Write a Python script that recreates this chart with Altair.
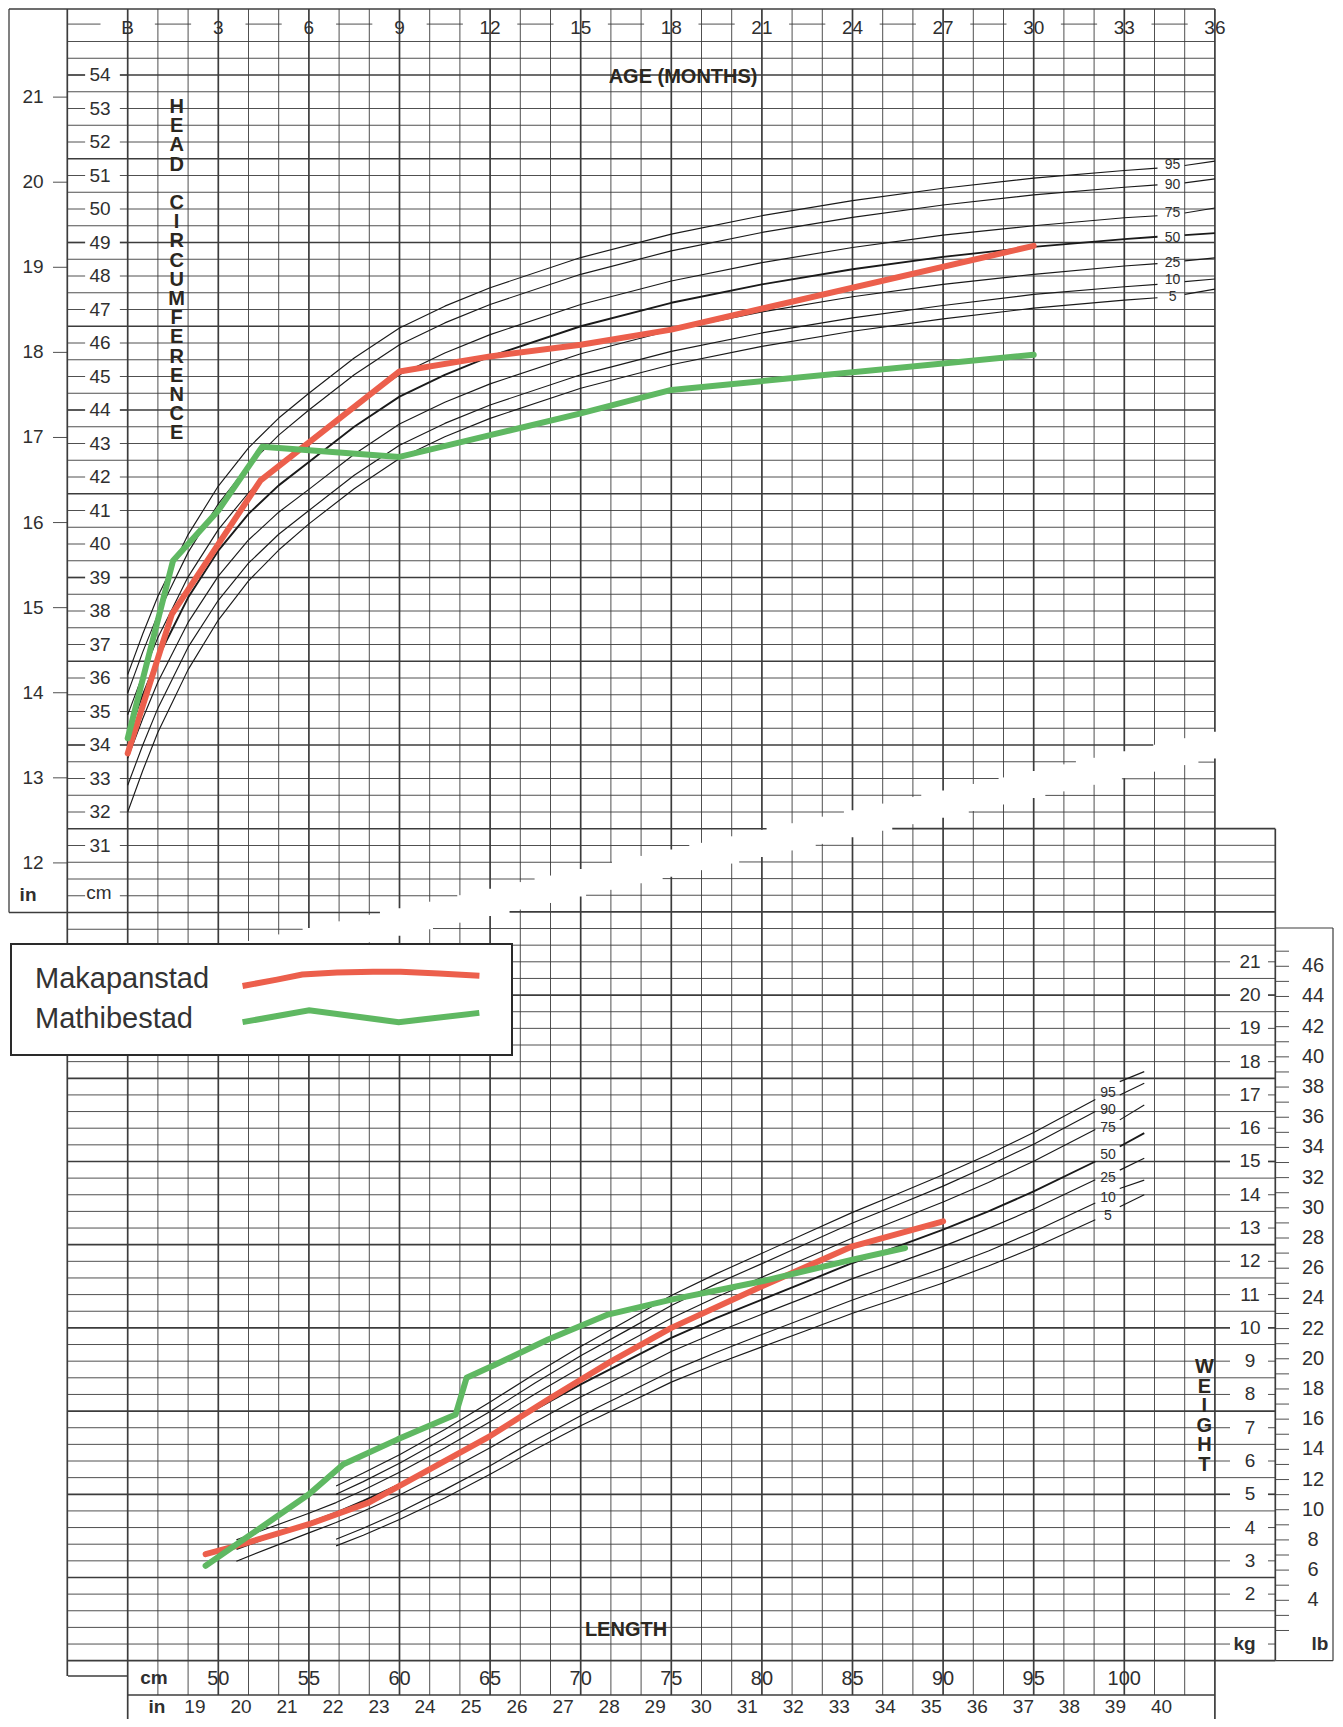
import altair as alt
import pandas as pd

FONT = "Liberation Sans"
INK = "#2f2f2f"
GRID = "#3c3c3c"
CURVE = "#1a1a1a"

# ------------------------------------------------------------------ data
series_names = ["Makapanstad", "Mathibestad"]
series_colors = ["#EC5F4C", "#5FB862"]

# head circumference for age: age (months) / cm
hc_mak_age = [0, 1.46, 4.4, 9.0, 12, 15, 18, 30]
hc_mak_cm = [33.75, 37.9, 41.9, 45.15, 45.6, 45.95, 46.4, 48.9]
hc_mat_age = [0, 1.5, 3.0, 4.45, 9.0, 12, 15, 18, 30]
hc_mat_cm = [34.2, 39.5, 41.0, 42.9, 42.6, 43.25, 43.9, 44.6, 45.65]

# weight for length: length (cm) / kg
wl_mak_len = [49.3, 51, 55, 58.3, 60, 65, 68.2, 71.7, 75, 80, 85, 90]
wl_mak_kg = [3.2, 3.45, 4.1, 4.75, 5.25, 6.75, 7.85, 9.0, 10.0, 11.25, 12.45, 13.2]
wl_mat_len = [49.3, 55.0, 56.9, 59.9, 63.1, 63.7, 65.3, 68.2, 71.5, 75, 80, 85, 87.9]
wl_mat_kg = [2.85, 5.0, 5.9, 6.65, 7.4, 8.5, 8.9, 9.65, 10.4, 10.85, 11.4, 12.05, 12.4]

pct_names = ["95", "90", "75", "50", "25", "10", "5"]

# reference percentile curves, head circumference (cm) by age (months)
hc_pct_age = [0, 0.5, 1, 1.5, 2, 3, 4, 5, 6, 7.5, 9, 10.5, 12, 15, 18, 21, 24, 27, 30, 33, 34.1]
hc_pct = {
    "95": [36.1, 37.32, 38.44, 39.36, 40.28, 41.73, 42.87, 43.76, 44.5, 45.55, 46.45, 47.1, 47.65, 48.55, 49.25, 49.8, 50.25, 50.62, 50.92, 51.15, 51.22],
    "90": [35.55, 36.78, 37.9, 38.83, 39.75, 41.2, 42.35, 43.25, 44.0, 45.05, 45.95, 46.6, 47.15, 48.05, 48.75, 49.3, 49.75, 50.12, 50.42, 50.65, 50.72],
    "75": [34.9, 36.1, 37.21, 38.11, 39.02, 40.43, 41.53, 42.39, 43.1, 44.15, 45.05, 45.7, 46.25, 47.15, 47.85, 48.4, 48.85, 49.22, 49.5, 49.74, 49.8],
    "50": [34.3, 35.5, 36.6, 37.5, 38.4, 39.8, 40.9, 41.75, 42.45, 43.5, 44.4, 45.05, 45.6, 46.5, 47.2, 47.75, 48.2, 48.57, 48.87, 49.1, 49.17],
    "25": [33.6, 34.79, 35.88, 36.77, 37.66, 39.04, 40.12, 40.95, 41.63, 42.68, 43.58, 44.23, 44.78, 45.68, 46.38, 46.93, 47.38, 47.75, 48.05, 48.3, 48.37],
    "10": [32.8, 34.0, 35.1, 36.01, 36.92, 38.32, 39.43, 40.29, 41.0, 42.05, 42.95, 43.6, 44.15, 45.05, 45.75, 46.3, 46.75, 47.12, 47.45, 47.68, 47.75],
    "5": [32.0, 33.24, 34.38, 35.31, 36.25, 37.73, 38.9, 39.82, 40.6, 41.65, 42.55, 43.2, 43.75, 44.65, 45.35, 45.9, 46.35, 46.72, 47.04, 47.28, 47.35],
}
hc_seg_age = [35, 36]
hc_seg = {"95": [51.3, 51.43], "90": [50.78, 50.9], "75": [49.88, 50.03], "50": [49.22, 49.28],
          "25": [48.45, 48.54], "10": [47.83, 47.91], "5": [47.45, 47.61]}
hc_lab_age = 34.6
hc_lab_cm = [51.31, 50.72, 49.88, 49.13, 48.39, 47.88, 47.37]

# reference percentile curves, weight (kg) by length (cm)
wl_len_long = [51, 53, 55, 56.5, 58, 60, 62.5, 65, 67.5, 70, 72.5, 75, 77.5, 80, 82.5, 85, 87.5, 90, 92.5, 95, 98.4]
wl_len_short = [56.5, 58, 60, 62.5, 65, 67.5, 70, 72.5, 75, 77.5, 80, 82.5, 85, 87.5, 90, 92.5, 95, 98.4]
wl_pct = {
    "95": [5.25, 5.64, 6.19, 6.95, 7.77, 8.63, 9.44, 10.2, 10.97, 11.63, 12.24, 12.86, 13.47, 14.03, 14.6, 15.21, 15.87, 16.86],
    "90": [5.0, 5.38, 5.93, 6.69, 7.49, 8.35, 9.16, 9.91, 10.67, 11.33, 11.93, 12.54, 13.15, 13.7, 14.26, 14.87, 15.52, 16.5],
    "75": [3.63, 4.03, 4.43, 4.75, 5.12, 5.66, 6.39, 7.18, 8.02, 8.81, 9.55, 10.29, 10.93, 11.52, 12.11, 12.7, 13.24, 13.78, 14.37, 15.01, 15.96],
    "50": [3.35, 3.75, 4.15, 4.45, 4.8, 5.3, 6.0, 6.75, 7.55, 8.3, 9.0, 9.7, 10.3, 10.85, 11.4, 11.95, 12.45, 12.95, 13.5, 14.1, 15.0],
    "25": [2.99, 3.42, 3.84, 4.15, 4.49, 4.98, 5.66, 6.4, 7.18, 7.92, 8.6, 9.29, 9.87, 10.41, 10.94, 11.48, 11.96, 12.45, 12.99, 13.57, 14.45],
    "10": [3.65, 3.98, 4.46, 5.14, 5.86, 6.63, 7.36, 8.03, 8.7, 9.27, 9.8, 10.32, 10.84, 11.32, 11.79, 12.31, 12.89, 13.75],
    "5": [3.45, 3.77, 4.24, 4.89, 5.6, 6.35, 7.06, 7.71, 8.37, 8.92, 9.43, 9.93, 10.44, 10.89, 11.35, 11.86, 12.41, 13.25],
}
wl_long_pcts = ["75", "50", "25"]
wl_seg_len = [99.75, 101.1]
wl_seg = {"95": [17.4, 17.7], "90": [17.0, 17.35], "75": [16.25, 16.7], "50": [15.45, 15.85],
          "25": [14.74, 15.1], "10": [14.19, 14.44], "5": [13.64, 14.0]}
wl_lab_len = 99.1
wl_lab_kg = [17.05, 16.55, 16.0, 15.2, 14.5, 13.9, 13.35]

# tick labels
month_ticks = list(range(0, 37, 3))
month_labels = ["B"] + [str(m) for m in range(3, 37, 3)]
cm_ticks = list(range(31, 55))
inch_ticks = list(range(12, 22))
kg_ticks = list(range(2, 22))
lb_ticks = list(range(2, 48))
lb_labels = list(range(4, 47, 2))
len_ticks = list(range(50, 101, 5))
len_inch_ticks = list(range(19, 41))

# ------------------------------------------------------------------ sheet geometry
W, H = 1327, 1711


def age_at(px):
    return (px - 127.7) / 30.2


def px_of_age(a):
    return 127.7 + 30.2 * a


def cm_at(py):
    return 54 - (py - 75) / 33.5


def py_of_cm(c):
    return 75 + 33.5 * (54 - c)


def len_at(px):
    return 50 + (px - 218.3) / 18.12


def kg_at(py):
    return 21 - (py - 961.8) / 33.28


def py_of_kg(k):
    return 961.8 + 33.28 * (21 - k)


TOP_X = [age_at(8), age_at(8 + W)]
TOP_Y = [cm_at(8 + H), cm_at(8)]
BOT_X = [len_at(8), len_at(8 + W)]
BOT_Y = [kg_at(8 + H), kg_at(8)]


def band_top_y(px):
    return 927 - 0.2166 * (px - 313)


def band_bot_y(px):
    return 927 - 0.2174 * (px - 440)


def band_top_x(py):
    return 313 + (927 - py) / 0.2166


def band_bot_x(py):
    return 440 + (927 - py) / 0.2174


THIN, THICK = 0.9, 1.7

# ---- top grid (age / cm)
top_rules = []


def add(lst, x, x2, y, y2, w):
    lst.append(dict(x=x, x2=x2, y=y, y2=y2, w=w))


for m in [-2] + list(range(0, 37)):
    px = px_of_age(m)
    y_end = min(band_top_y(px), 944)
    w = THICK if (m % 3 == 0 or m == -2) else THIN
    add(top_rules, m, m, cm_at(9), cm_at(y_end), w)

c = 28.5
while c <= 55.001:
    py = py_of_cm(c)
    xe = band_top_x(py)
    a2 = 36 if xe >= px_of_age(36) else age_at(xe)
    q = (c - 29) / 2.5
    w = THICK if abs(q - round(q)) < 1e-6 else THIN
    if (abs(c - round(c)) < 1e-6 and int(round(c)) in cm_ticks) or abs(c - 29.5) < 1e-6:
        add(top_rules, 0, a2, c, c, w)
        add(top_rules, -2, -1.41, c, c, w)
        add(top_rules, -0.26, 0, c, c, w)
    else:
        add(top_rules, -2, a2, c, c, w)
    c += 0.5

# dashes of the month label row
add(top_rules, -2, -0.9, 55.52, 55.52, THIN)
for k in range(12):
    add(top_rules, 3 * k + 0.9, 3 * k + 2.1, 55.52, 55.52, THIN)
# frame of the upper sheet
add(top_rules, age_at(9), 36, cm_at(9), cm_at(9), 1.5)
add(top_rules, age_at(9), age_at(9), cm_at(9), 29.0, 1.3)
add(top_rules, age_at(9), -2, 29.0, 29.0, 1.3)
# inch ticks
for i in inch_ticks:
    add(top_rules, age_at(53), -2, i * 2.54, i * 2.54, THIN)

# ---- bottom grid (length / kg)
bot_rules = []
for m in [-2] + list(range(0, 37)) + [38]:
    px = px_of_age(m)
    if m == 38:
        y1, y2 = py_of_kg(25), py_of_kg(0)
    else:
        y1 = band_bot_y(px)
        y2 = 1676 if m == -2 else (1727 if m in (0, 36) else 1695)
    w = THICK if (m % 3 == 0 or m in (-2, 38)) else THIN
    add(bot_rules, len_at(px), len_at(px), kg_at(y1), kg_at(y2), w)

k = 0.0
while k <= 27.001:
    py = py_of_kg(k)
    xs = max(68, band_bot_x(py))
    if xs < px_of_age(36):
        xe = px_of_age(38) if k <= 25.001 else px_of_age(36)
        q = k / 2.5
        w = THICK if abs(q - round(q)) < 1e-6 else THIN
        if (abs(k - round(k)) < 1e-6 and int(round(k)) in kg_ticks) or abs(k - 0.5) < 1e-6:
            add(bot_rules, len_at(xs), len_at(px_of_age(36)), k, k, w)
            add(bot_rules, len_at(px_of_age(36)), len_at(1230), k, k, w)
            add(bot_rules, len_at(1268), len_at(xe), k, k, w)
        else:
            add(bot_rules, len_at(xs), len_at(xe), k, k, w)
    k += 0.5

# rows under the length scale and lb box
add(bot_rules, len_at(px_of_age(0)), len_at(px_of_age(36)), kg_at(1695), kg_at(1695), 1.3)
add(bot_rules, len_at(68), len_at(px_of_age(0)), kg_at(1676), kg_at(1676), 1.3)
add(bot_rules, len_at(px_of_age(38)), len_at(1333), kg_at(928), kg_at(928), 1.2)
add(bot_rules, len_at(1333), len_at(1333), kg_at(928), 0, 1.2)
add(bot_rules, len_at(px_of_age(38)), len_at(1333), 0, 0, 1.2)
for lb in lb_ticks:
    add(bot_rules, len_at(px_of_age(38)), len_at(1289), lb * 0.453592, lb * 0.453592, THIN)

# ---- percentile curves
def curve_frame(xs_by, vals, segx, segs):
    rows = []
    for p in pct_names:
        xs = xs_by(p)
        for x, y in zip(xs, vals[p]):
            rows.append(dict(x=x, y=y, g=p, w=1.9 if p == "50" else 1.15))
        for x, y in zip(segx, segs[p]):
            rows.append(dict(x=x, y=y, g=p + "s", w=1.9 if p == "50" else 1.15))
    return pd.DataFrame(rows)


hc_curves = curve_frame(lambda p: hc_pct_age, hc_pct, hc_seg_age, hc_seg)
wl_curves = curve_frame(lambda p: wl_len_long if p in wl_long_pcts else wl_len_short,
                        wl_pct, wl_seg_len, wl_seg)

hc_data = pd.DataFrame(
    [dict(x=a, y=v, series=series_names[0]) for a, v in zip(hc_mak_age, hc_mak_cm)]
    + [dict(x=a, y=v, series=series_names[1]) for a, v in zip(hc_mat_age, hc_mat_cm)])
wl_data = pd.DataFrame(
    [dict(x=a, y=v, series=series_names[0]) for a, v in zip(wl_mak_len, wl_mak_kg)]
    + [dict(x=a, y=v, series=series_names[1]) for a, v in zip(wl_mat_len, wl_mat_kg)])

# ------------------------------------------------------------------ encodings
def sc(dom):
    return alt.Scale(domain=dom, nice=False, zero=False)


def xy(part):
    xd, yd = (TOP_X, TOP_Y) if part == "top" else (BOT_X, BOT_Y)
    return dict(x=alt.X("x:Q", scale=sc(xd), axis=None),
                y=alt.Y("y:Q", scale=sc(yd), axis=None))


def rule_layer(rows, part):
    return alt.Chart(pd.DataFrame(rows)).mark_rule(color=GRID, strokeCap="butt").encode(
        x2="x2:Q", y2="y2:Q",
        strokeWidth=alt.StrokeWidth("w:Q", scale=None, legend=None),
        **xy(part))


def curve_layer(df, part):
    return alt.Chart(df).mark_line(color=CURVE, strokeJoin="round").encode(
        detail="g:N",
        strokeWidth=alt.StrokeWidth("w:Q", scale=None, legend=None),
        **xy(part))


wave_mak = "M-9.87,0.58 L-7,0.05 L-4.9,-0.38 L-2,-0.55 L1,-0.6 L3.3,-0.6 L6.5,-0.45 L9.87,-0.28"
wave_mat = "M-9.87,0.26 L-4.32,-0.72 L3.14,0.26 L9.86,-0.51"

legend = alt.Legend(
    title=None, orient="none", legendX=3, legendY=936, direction="vertical",
    fillColor="white", strokeColor="#2a2a2a", padding=20,
    labelFont=FONT, labelFontSize=29, labelColor="#333333", labelAlign="left", labelLimit=400,
    labelOffset={"expr": "-341"}, symbolOffset=315, symbolSize=576, symbolStrokeWidth=6,
    symbolType={"expr": "datum.label === 'Makapanstad' ? '" + wave_mak + "' : '" + wave_mat + "'"},
    symbolFillColor="transparent", rowPadding=0,
)

color = alt.Color("series:N", scale=alt.Scale(domain=series_names, range=series_colors), legend=legend)


def data_layer(df, part):
    return alt.Chart(df).mark_line(strokeWidth=6, strokeJoin="round", strokeCap="round").encode(
        color=color, **xy(part))


def text_layer(xs, ys, ts, part, size, weight="normal", align="center", color=INK):
    df = pd.DataFrame(dict(x=xs, y=ys, t=[str(t) for t in ts]))
    return alt.Chart(df).mark_text(font=FONT, fontSize=size, fontWeight=weight, align=align,
                                   baseline="middle", color=color).encode(text="t:N", **xy(part))


def stack_layer(x, y, letters, part, size, lh):
    df = pd.DataFrame(dict(x=[x], y=[y]))
    return alt.Chart(df).mark_text(font=FONT, fontSize=size, fontWeight="bold", align="center",
                                   baseline="middle", color="#2b2720", text=letters,
                                   lineHeight=lh).encode(**xy(part))


layers = [
    rule_layer(top_rules, "top"),
    curve_layer(hc_curves, "top"),
    text_layer([hc_lab_age] * 7, hc_lab_cm, pct_names, "top", 14),
    text_layer(month_ticks, [55.40] * len(month_ticks), month_labels, "top", 19),
    text_layer([-0.914] * len(cm_ticks), cm_ticks, cm_ticks, "top", 19),
    text_layer([-3.136] * len(inch_ticks), [i * 2.54 for i in inch_ticks], inch_ticks, "top", 19),
    text_layer([-3.30], [29.52], ["in"], "top", 19, weight="bold"),
    text_layer([-0.95], [29.58], ["cm"], "top", 19),
    text_layer([18.39], [53.94], ["AGE (MONTHS)"], "top", 20, weight="bold", color="#2b2720"),
    stack_layer(1.62, cm_at(107), list("HEAD"), "top", 20, 19.2),
    stack_layer(1.62, cm_at(107 + 5 * 19.2), list("CIRCUMFERENCE"), "top", 20, 19.2),
    data_layer(hc_data, "top"),

    rule_layer(bot_rules, "bot"),
    curve_layer(wl_curves, "bot"),
    text_layer([wl_lab_len] * 7, wl_lab_kg, pct_names, "bot", 14),
    text_layer([len_at(1250)] * len(kg_ticks), kg_ticks, kg_ticks, "bot", 19),
    text_layer([len_at(1313)] * len(lb_labels), [lb * 0.453592 for lb in lb_labels], lb_labels, "bot", 20),
    text_layer([len_at(1244.6), len_at(1320)], [0.49, 0.49], ["kg", "lb"], "bot", 19, weight="bold"),
    text_layer(len_ticks, [kg_at(1679)] * len(len_ticks), len_ticks, "bot", 20),
    text_layer([i * 2.54 + 0.45 for i in len_inch_ticks], [kg_at(1707)] * len(len_inch_ticks),
               len_inch_ticks, "bot", 19),
    text_layer([len_at(154), len_at(157)], [kg_at(1678), kg_at(1707)], ["cm", "in"], "bot", 19, weight="bold"),
    text_layer([72.5], [0.907], ["LENGTH"], "bot", 20, weight="bold", color="#2b2720"),
    stack_layer(104.42, kg_at(1367), list("WEIGHT"), "bot", 20, 19.5),
    data_layer(wl_data, "bot"),
]

chart = alt.layer(*layers).resolve_scale(x="independent", y="independent").properties(
    width=W, height=H, padding=0, background="white",
    autosize=alt.AutoSizeParams(type="none"),
).configure_view(stroke=None).configure_legend(strokeWidth=2)

chart.save("out.html", embed_options={"renderer": "svg", "actions": False})
